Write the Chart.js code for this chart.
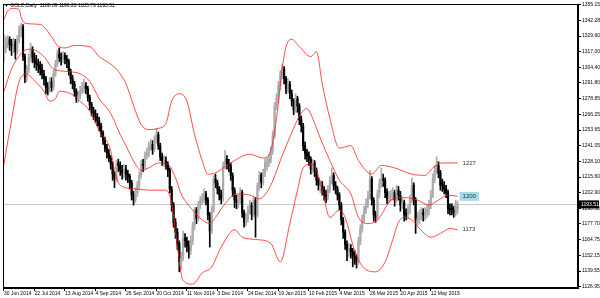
<!DOCTYPE html>
<html>
<head>
<meta charset="utf-8">
<script src="https://cdn.jsdelivr.net/npm/chart.js@4.4.1/dist/chart.umd.min.js"></script>
<style>
html, body { margin: 0; padding: 0; background: #fff; }
</style>
</head>
<body>
<canvas id="myChart" width="600" height="298"></canvas>
<script>
// GOLD daily, 30 Jun 2014 .. end of May 2015, one entry per trading day
const opens = [
  1318,1321,1325,1327,1323,1322,1325,1317,1327,1335,
  1337,1313,1296,1303,1312,1319,1312,1309,1307,1306,
  1303,1299,1295,1288,1287,1293,1288,1299,1307,1315,
  1312,1311,1314,1311,1309,1301,1295,1291,1285,1279,
  1281,1285,1287,1290,1287,1280,1274,1269,1267,1264,
  1261,1257,1251,1245,1239,1235,1231,1226,1218,1214,
  1227,1225,1221,1219,1222,1218,1216,1211,1201,1197,
  1203,1209,1217,1226,1225,1233,1235,1241,1242,1238,
  1246,1250,1241,1232,1227,1229,1226,1221,1206,1193,
  1179,1171,1162,1147,1150,1166,1164,1160,1156,1164,
  1176,1189,1182,1193,1197,1198,1202,1197,1185,1172,
  1189,1214,1211,1206,1201,1198,1225,1230,1226,1225,
  1217,1205,1197,1195,1197,1203,1187,1179,1182,1189,
  1193,1185,1197,1185,1208,1217,1211,1219,1225,1227,
  1230,1237,1249,1273,1279,1289,1299,1303,1295,1287,
  1291,1283,1277,1270,1279,1273,1262,1257,1241,1235,
  1233,1230,1222,1227,1221,1213,1207,1209,1205,1201,
  1200,1206,1213,1217,1209,1206,1201,1193,1181,1171,
  1161,1156,1158,1155,1152,1150,1147,1164,1174,1182,
  1189,1194,1200,1214,1197,1185,1183,1202,1210,1214,
  1213,1203,1198,1200,1201,1203,1197,1205,1201,1193,
  1195,1187,1185,1189,1197,1209,1197,1181,1182,1185,
  1187,1185,1187,1189,1193,1201,1214,1221,1225,1219,
  1211,1209,1206,1203,1190,1191,1189,1187,1188.89
];
const highs = [
  1331,1329,1330,1329,1327,1328,1327,1330,1338,1340,
  1339,1315,1306,1315,1324,1321,1316,1314,1311,1309,
  1307,1302,1297,1292,1296,1296,1302,1310,1318,1320,
  1316,1317,1316,1314,1311,1303,1298,1293,1287,1285,
  1289,1292,1295,1292,1289,1282,1276,1272,1270,1267,
  1264,1259,1253,1248,1242,1238,1233,1228,1220,1229,
  1230,1228,1225,1226,1225,1221,1218,1213,1204,1207,
  1212,1220,1229,1230,1236,1239,1244,1246,1245,1249,
  1255,1252,1243,1235,1233,1232,1228,1223,1208,1195,
  1182,1174,1164,1155,1172,1170,1167,1164,1168,1179,
  1191,1191,1196,1200,1202,1206,1204,1199,1187,1192,
  1217,1218,1213,1208,1205,1228,1237,1233,1230,1227,
  1219,1207,1201,1201,1207,1205,1189,1186,1192,1197,
  1195,1200,1199,1211,1220,1219,1222,1230,1231,1234,
  1240,1253,1276,1283,1293,1302,1307,1305,1297,1295,
  1293,1286,1279,1283,1281,1275,1265,1259,1244,1238,
  1236,1232,1230,1229,1223,1215,1213,1212,1208,1205,
  1209,1216,1223,1219,1212,1208,1203,1195,1183,1173,
  1164,1162,1161,1158,1156,1153,1167,1177,1185,1192,
  1198,1204,1221,1216,1199,1188,1205,1214,1223,1218,
  1215,1206,1204,1205,1207,1205,1209,1208,1204,1199,
  1197,1190,1193,1201,1215,1211,1199,1187,1189,1191,
  1190,1191,1193,1197,1205,1218,1225,1232,1228,1221,
  1214,1212,1209,1205,1194,1194,1192,1197,1196.20
];
const lows = [
  1309,1316,1320,1318,1314,1316,1311,1315,1324,1329,
  1310,1292,1293,1300,1309,1308,1304,1302,1300,1298,
  1295,1290,1283,1282,1284,1285,1286,1297,1305,1309,
  1306,1308,1307,1304,1298,1291,1287,1281,1276,1276,
  1279,1283,1284,1283,1277,1270,1265,1262,1260,1257,
  1253,1248,1242,1236,1231,1228,1222,1213,1207,1212,
  1220,1217,1214,1215,1213,1211,1206,1197,1193,1195,
  1200,1206,1215,1220,1222,1230,1232,1237,1234,1236,
  1243,1238,1229,1225,1224,1222,1216,1203,1188,1175,
  1166,1157,1139,1141,1148,1159,1155,1150,1153,1161,
  1173,1178,1180,1190,1193,1195,1193,1181,1159,1170,
  1187,1207,1202,1197,1194,1196,1222,1222,1220,1213,
  1200,1191,1190,1191,1194,1183,1175,1176,1179,1186,
  1181,1183,1167,1183,1205,1207,1209,1216,1221,1224,
  1227,1234,1247,1270,1276,1286,1295,1291,1283,1284,
  1279,1273,1266,1268,1268,1258,1252,1237,1230,1228,
  1225,1218,1219,1216,1209,1205,1203,1201,1197,1195,
  1197,1203,1210,1205,1202,1197,1189,1177,1166,1157,
  1148,1151,1150,1143,1145,1142,1145,1161,1171,1179,
  1186,1191,1198,1193,1180,1179,1181,1199,1207,1208,
  1199,1194,1195,1196,1197,1192,1195,1197,1188,1190,
  1180,1181,1182,1186,1195,1193,1170,1177,1178,1181,
  1180,1181,1183,1185,1190,1199,1211,1218,1215,1205,
  1204,1202,1199,1186,1185,1185,1183,1184,1185.79
];
const closes = [
  1321,1325,1327,1323,1322,1325,1317,1327,1335,1337,
  1313,1296,1303,1312,1319,1312,1309,1307,1306,1303,
  1299,1295,1288,1287,1293,1288,1299,1307,1315,1312,
  1311,1314,1311,1309,1301,1295,1291,1285,1279,1281,
  1285,1287,1290,1287,1280,1274,1269,1267,1264,1261,
  1257,1251,1245,1239,1235,1231,1226,1218,1214,1225,
  1225,1221,1219,1222,1218,1216,1211,1201,1197,1203,
  1209,1217,1226,1225,1233,1235,1241,1242,1238,1246,
  1250,1241,1232,1229,1229,1226,1221,1206,1193,1179,
  1171,1162,1147,1150,1166,1164,1160,1156,1164,1176,
  1189,1182,1193,1197,1198,1202,1197,1185,1172,1189,
  1214,1211,1206,1201,1198,1225,1230,1226,1225,1217,
  1205,1197,1195,1197,1203,1187,1179,1182,1189,1193,
  1185,1197,1185,1208,1217,1211,1219,1227,1227,1230,
  1237,1249,1273,1279,1289,1299,1303,1295,1287,1291,
  1283,1277,1270,1279,1273,1262,1257,1241,1235,1233,
  1230,1222,1227,1221,1213,1209,1209,1205,1201,1200,
  1206,1213,1217,1209,1206,1201,1193,1181,1171,1161,
  1156,1158,1155,1152,1150,1147,1164,1174,1182,1189,
  1194,1200,1214,1197,1185,1183,1202,1210,1214,1213,
  1203,1198,1200,1201,1203,1197,1205,1201,1193,1195,
  1185,1185,1189,1197,1209,1197,1181,1182,1185,1187,
  1185,1187,1189,1193,1201,1214,1221,1225,1219,1209,
  1209,1206,1203,1190,1189,1189,1187,1194,1193.51
];

// Bollinger bands at these bar numbers
const upperIdx = [0,2,5,8,9,11,19,25,28,32,37,45,50,56,59,64,69,72,76,81,85,88,92,96,100,104,107,111,116,121,129,136,140,143,146,148,151,155,161,164,167,171,176,182,186,193,198,205,214,221,225,230,238];
const upperVal = [1343,1350,1352,1351,1345,1340,1339,1329,1322,1320,1322,1321,1313,1307,1303,1291,1269,1258,1254,1255,1259,1277,1283,1277,1250,1229,1218,1219,1224,1229,1234,1231,1237,1263,1303,1321,1327,1321,1313,1317,1291,1263,1239,1241,1229,1218,1225,1223,1218,1217,1223,1227,1227];
const middleIdx = [0,4,10,14,21,26,33,40,45,50,56,61,64,69,72,76,81,86,90,93,99,104,108,111,116,122,129,134,140,146,152,155,159,162,166,171,176,182,186,191,196,204,210,217,223,228,233,238];
const middleVal = [1285,1303,1317,1319,1313,1303,1301,1299,1293,1279,1267,1250,1241,1226,1221,1223,1227,1226,1215,1202,1189,1181,1178,1183,1194,1202,1201,1198,1209,1233,1255,1265,1271,1263,1247,1229,1213,1202,1183,1178,1181,1198,1199,1197,1193,1197,1201,1200];
const lowerIdx = [0,3,8,12,15,21,24,27,29,35,40,45,50,56,58,61,69,77,85,88,91,94,99,104,109,114,121,125,133,140,145,150,154,157,161,164,167,171,176,179,184,189,195,200,204,207,210,214,218,224,229,234,238];
const lowerVal = [1226,1253,1293,1299,1295,1285,1277,1279,1285,1283,1277,1269,1253,1237,1221,1209,1206,1205,1205,1194,1159,1132,1129,1138,1143,1159,1173,1167,1165,1162,1147,1178,1205,1223,1226,1221,1205,1183,1189,1183,1156,1142,1139,1147,1165,1179,1183,1181,1174,1167,1170,1174,1173];

// axis labels
const dateIdx = [0,16,32,48,64,80,96,112,128,144,160,176,192,208,224];
const dateLabels = ['30 Jun 2014','22 Jul 2014','13 Aug 2014','4 Sep 2014','26 Sep 2014','20 Oct 2014','11 Nov 2014','3 Dec 2014','24 Dec 2014','19 Jan 2015','10 Feb 2015','4 Mar 2015','26 Mar 2015','20 Apr 2015','12 May 2015'];
const priceTicks = [1355.15,1342.28,1329.60,1317.00,1304.40,1291.80,1278.85,1266.25,1253.65,1241.05,1228.10,1215.60,1202.90,1190.30,1177.70,1164.75,1152.15,1139.55,1126.95];

const upColor = '#ababab';
const downColor = '#000000';
const bandColor = 'rgba(255,30,30,0.8)';
const font = { family: 'Liberation Sans', size: 5 };

const barColors = closes.map((c, i) => c >= opens[i] ? upColor : downColor);
const wickData = closes.map((c, i) => ({ x: i, y: [lows[i], highs[i]] }));
const bodyData = closes.map((c, i) => ({ x: i, y: [opens[i], c] }));
const toPoints = (idx, vals) => idx.map((v, i) => ({ x: v, y: vals[i] }));

const overlay = {
  id: 'overlay',
  beforeDatasetsDraw(chart) {
    const { ctx, chartArea: a, scales: { y } } = chart;
    const py = Math.round(y.getPixelForValue(closes[closes.length - 1])) + 0.5;
    ctx.save();
    ctx.strokeStyle = '#c8c8c8';
    ctx.lineWidth = 1;
    ctx.beginPath();
    ctx.moveTo(a.left, py);
    ctx.lineTo(a.right, py);
    ctx.stroke();
    ctx.restore();
  },
  afterDraw(chart) {
    const { ctx, chartArea: a, scales: { x, y } } = chart;
    ctx.save();
    // frame
    ctx.strokeStyle = '#000';
    ctx.lineWidth = 1;
    ctx.strokeRect(a.left + 0.5, a.top + 0.5, a.right - a.left - 1, a.bottom - a.top - 1);

    // title
    ctx.fillStyle = '#000';
    ctx.font = '5px "Liberation Sans"';
    ctx.textBaseline = 'middle';
    ctx.textAlign = 'left';
    ctx.fillText('\u25BC GOLD,Daily  1188.89 1196.20 1185.79 1193.51', 4, 6);

    // band end labels
    const lx = x.getPixelForValue(238) + 5;
    const bands = [upperVal, middleVal, lowerVal];
    bands.forEach((b, k) => {
      const v = b[b.length - 1];
      const py = y.getPixelForValue(v);
      const t = String(v);
      ctx.font = '6px "Liberation Sans"';
      if (k === 1) {
        const w = ctx.measureText(t).width;
        ctx.fillStyle = '#a6dce8';
        ctx.fillRect(lx - 3, py - 4.5, w + 6, 9);
      }
      ctx.fillStyle = '#333';
      ctx.fillText(t, lx, py);
    });

    // last price tag on the axis
    const last = closes[closes.length - 1];
    const ty = y.getPixelForValue(last);
    ctx.fillStyle = '#000';
    ctx.fillRect(a.right + 1, ty - 4, 20, 8);
    ctx.fillStyle = '#fff';
    ctx.font = '5px "Liberation Sans"';
    ctx.fillText(last.toFixed(2), a.right + 3, ty);
    ctx.restore();
  }
};

const config = {
  data: {
    datasets: [
      { type: 'line', data: toPoints(upperIdx, upperVal), borderColor: bandColor, borderWidth: 1, pointRadius: 0, cubicInterpolationMode: 'monotone', order: 0 },
      { type: 'line', data: toPoints(middleIdx, middleVal), borderColor: bandColor, borderWidth: 1, pointRadius: 0, cubicInterpolationMode: 'monotone', order: 0 },
      { type: 'line', data: toPoints(lowerIdx, lowerVal), borderColor: bandColor, borderWidth: 1, pointRadius: 0, cubicInterpolationMode: 'monotone', order: 0 },
      { type: 'bar', data: bodyData, backgroundColor: barColors, barThickness: 1.5, grouped: false, order: 1 },
      { type: 'bar', data: wickData, backgroundColor: barColors, barThickness: 1, grouped: false, order: 2 }
    ]
  },
  options: {
    responsive: false,
    animation: false,
    events: [],
    layout: { padding: { left: 3, top: 2, right: 0, bottom: 0 } },
    plugins: { legend: { display: false }, tooltip: { enabled: false } },
    scales: {
      x: {
        type: 'linear',
        position: 'bottom',
        offset: false,
        min: -0.5,
        max: 301.2,
        afterBuildTicks: s => { s.ticks = dateIdx.map(v => ({ value: v })); },
        afterFit: s => { s.height = 10; },
        grid: { drawOnChartArea: false, tickLength: 3, color: '#000', offset: false },
        border: { display: true, color: '#000' },
        ticks: {
          autoSkip: false, maxRotation: 0, align: 'start', padding: 0,
          color: '#000', font: font,
          callback: (v) => dateLabels[dateIdx.indexOf(v)]
        }
      },
      y: {
        type: 'linear',
        position: 'right',
        min: 1125.9,
        max: 1355.55,
        afterBuildTicks: s => { s.ticks = priceTicks.map(v => ({ value: v })); },
        afterFit: s => { s.width = 22; },
        grid: { drawOnChartArea: false, tickLength: 3, color: '#000' },
        border: { display: true, color: '#000' },
        ticks: {
          padding: 1, color: '#000', font: font,
          callback: v => v.toFixed(2)
        }
      }
    }
  },
  plugins: [overlay]
};

const myChart = new Chart(document.getElementById('myChart'), config);
</script>
</body>
</html>
